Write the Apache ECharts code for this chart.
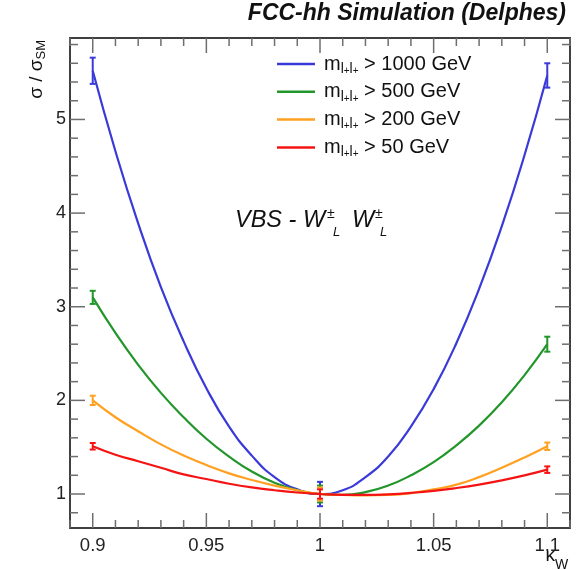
<!DOCTYPE html>
<html>
<head>
<meta charset="utf-8">
<script src="https://cdn.jsdelivr.net/npm/echarts@6/dist/echarts.min.js"></script>
<style>
  html, body { margin: 0; padding: 0; background: #fff; }
  #chart { width: 588px; height: 570px; }
</style>
</head>
<body>
<div id="chart"></div>
<script>
// kappa_W sampling of the fitted curves
const kappa = [0.90, 0.91, 0.92, 0.93, 0.94, 0.95, 0.96, 0.97, 0.98, 0.99, 1.00,
               1.01, 1.02, 1.03, 1.04, 1.05, 1.06, 1.07, 1.08, 1.09, 1.10];

// sigma / sigma_SM fit curves for each m_ll cut
const fit1000 = [5.52, 4.66, 3.89, 3.21, 2.63, 2.13, 1.72, 1.41, 1.18, 1.05, 1.00,
                 1.04, 1.18, 1.40, 1.72, 2.12, 2.61, 3.19, 3.86, 4.62, 5.47];
const fit500  = [3.10, 2.72, 2.38, 2.08, 1.82, 1.59, 1.40, 1.24, 1.12, 1.04, 1.00,
                 0.99, 1.02, 1.09, 1.20, 1.34, 1.52, 1.73, 1.98, 2.27, 2.60];
const fit200  = [2.00, 1.82, 1.67, 1.53, 1.41, 1.31, 1.22, 1.15, 1.09, 1.04, 1.00,
                 0.99, 0.985, 0.99, 1.01, 1.05, 1.10, 1.18, 1.28, 1.39, 1.51];
const fit50   = [1.51, 1.42, 1.35, 1.28, 1.21, 1.16, 1.11, 1.07, 1.04, 1.016, 1.00,
                 0.991, 0.99, 0.997, 1.012, 1.034, 1.064, 1.101, 1.146, 1.199, 1.26];

// simulated points with their uncertainties
const pointKappa = [0.9, 1.0, 1.1];
const pts1000 = [5.52, 1.00, 5.47];
const err1000 = [0.14, 0.13, 0.13];
const pts500  = [3.10, 1.00, 2.60];
const err500  = [0.07, 0.09, 0.08];
const pts200  = [2.00, 1.00, 1.51];
const err200  = [0.05, 0.07, 0.04];
const pts50   = [1.51, 1.00, 1.26];
const err50   = [0.035, 0.05, 0.035];

// cut labels shown in the legend
const cuts = ['1000', '500', '200', '50'];

// axis ticks
const xMajor = [0.9, 0.95, 1, 1.05, 1.1];
const yMajor = [1, 2, 3, 4, 5];
const xRange = [0.89, 1.11];
const yRange = [0.637, 5.87];

const xMinor = [];
for (let i = 89; i <= 111; i++) {
  if (i % 5 !== 0) xMinor.push(i / 100);
}
const yMinor = [];
for (let i = 4; i <= 29; i++) {
  if (i % 5 !== 0) yMinor.push(i / 5);
}

const colors = ['#3a3ad8', '#22962a', '#ffa020', '#f51414'];
const FONT = 'Liberation Sans';
const frameStyle = { color: '#404040', width: 2 };
const tickColor = '#6e6e6e';

function makeAxis(pos, range, major, showLabels) {
  return {
    type: 'value',
    position: pos,
    min: range[0],
    max: range[1],
    axisLine: { show: true, onZero: false, lineStyle: frameStyle },
    axisTick: { show: false },
    axisLabel: showLabels ? {
      show: true,
      customValues: major,
      fontFamily: FONT,
      fontSize: pos === 'bottom' ? 18.5 : 18,
      color: '#222',
      margin: pos === 'bottom' ? 8 : 4
    } : { show: false },
    splitLine: { show: false }
  };
}

function lineSeries(name, values, color) {
  return {
    type: 'line',
    name: name,
    data: kappa.map((k, i) => [k, values[i]]),
    smooth: 0.5,
    showSymbol: false,
    symbol: 'none',
    lineStyle: { color: color, width: 2.2 },
    itemStyle: { color: color },
    z: 3
  };
}

function errorSeries(name, vals, errs, color) {
  return {
    type: 'custom',
    name: name,
    data: pointKappa.map((k, i) => [k, vals[i], errs[i]]),
    renderItem: function (params, api) {
      const x = api.value(0), y = api.value(1), e = api.value(2);
      const hi = api.coord([x, y + e]);
      const lo = api.coord([x, y - e]);
      const st = { stroke: color, lineWidth: 2 };
      return {
        type: 'group',
        children: [
          { type: 'line', shape: { x1: hi[0], y1: hi[1], x2: lo[0], y2: lo[1] }, style: st },
          { type: 'line', shape: { x1: hi[0] - 3, y1: hi[1], x2: hi[0] + 3, y2: hi[1] }, style: st },
          { type: 'line', shape: { x1: lo[0] - 3, y1: lo[1], x2: lo[0] + 3, y2: lo[1] }, style: st }
        ]
      };
    },
    z: 4
  };
}

// text annotations: axis titles and process label
const textGraphics = [
  {
    type: 'text', x: 37, y: 40, rotation: Math.PI / 2,
    style: {
      text: '{a|σ / σ}{b|SM}', align: 'right', verticalAlign: 'middle',
      rich: {
        a: { fontFamily: FONT, fontSize: 19, lineHeight: 22, fill: '#111' },
        b: { fontFamily: FONT, fontSize: 13, lineHeight: 12, verticalAlign: 'bottom', fill: '#111' }
      }
    }
  },
  {
    type: 'text', x: 555, y: 556,
    style: { text: 'κ', font: '19px "Liberation Sans"', align: 'right', verticalAlign: 'middle', fill: '#111' }
  },
  {
    type: 'text', x: 555, y: 565,
    style: { text: 'W', font: '14px "Liberation Sans"', align: 'left', verticalAlign: 'middle', fill: '#111' }
  },
  {
    type: 'text', x: 235, y: 220.5,
    style: { text: 'VBS - W', font: 'italic 23.5px "Liberation Sans"', align: 'left', verticalAlign: 'middle', fill: '#111' }
  },
  {
    type: 'text', x: 327, y: 214,
    style: { text: '±', font: 'italic 14px "Liberation Sans"', align: 'left', verticalAlign: 'middle', fill: '#111' }
  },
  {
    type: 'text', x: 333, y: 232.5,
    style: { text: 'L', font: 'italic 13px "Liberation Sans"', align: 'left', verticalAlign: 'middle', fill: '#111' }
  },
  {
    type: 'text', x: 352, y: 220.5,
    style: { text: 'W', font: 'italic 23.5px "Liberation Sans"', align: 'left', verticalAlign: 'middle', fill: '#111' }
  },
  {
    type: 'text', x: 375, y: 214,
    style: { text: '±', font: 'italic 14px "Liberation Sans"', align: 'left', verticalAlign: 'middle', fill: '#111' }
  },
  {
    type: 'text', x: 380, y: 232.5,
    style: { text: 'L', font: 'italic 13px "Liberation Sans"', align: 'left', verticalAlign: 'middle', fill: '#111' }
  }
];

const chart = echarts.init(document.getElementById('chart'), null, { renderer: 'canvas' });

const option = {
  animation: false,
  backgroundColor: '#fff',
  title: {
    text: 'FCC-hh Simulation (Delphes)',
    right: 22,
    top: 2,
    padding: 0,
    textStyle: {
      fontFamily: FONT, fontStyle: 'italic', fontWeight: 'bold',
      fontSize: 23, color: '#111'
    }
  },
  grid: { left: 70, right: 18, top: 38, bottom: 42, containLabel: false },
  xAxis: [
    makeAxis('bottom', xRange, xMajor, true),
    makeAxis('top', xRange, xMajor, false)
  ],
  yAxis: [
    makeAxis('left', yRange, yMajor, true),
    makeAxis('right', yRange, yMajor, false)
  ],
  legend: {
    data: cuts,
    orient: 'vertical',
    left: 277,
    top: 54,
    padding: 0,
    itemGap: 5.8,
    itemWidth: 38,
    itemHeight: 2.5,
    icon: 'rect',
    selectedMode: false,
    formatter: function (name) {
      return '{m|m}{s|l}{p|+}{s|l}{p|+}{t| > ' + name + ' GeV}';
    },
    textStyle: {
      fontFamily: FONT,
      color: '#111',
      rich: {
        m: { fontFamily: FONT, fontSize: 20, lineHeight: 24, color: '#111', padding: [0, 0, 0, 4] },
        s: { fontFamily: FONT, fontSize: 14, lineHeight: 13, verticalAlign: 'bottom', color: '#111' },
        p: { fontFamily: FONT, fontSize: 10, lineHeight: 16, verticalAlign: 'bottom', color: '#111' },
        t: { fontFamily: FONT, fontSize: 20, lineHeight: 24, color: '#111' }
      }
    }
  },
  graphic: textGraphics,
  series: [
    lineSeries(cuts[0], fit1000, colors[0]),
    errorSeries('err' + cuts[0], pts1000, err1000, colors[0]),
    lineSeries(cuts[1], fit500, colors[1]),
    errorSeries('err' + cuts[1], pts500, err500, colors[1]),
    lineSeries(cuts[2], fit200, colors[2]),
    errorSeries('err' + cuts[2], pts200, err200, colors[2]),
    lineSeries(cuts[3], fit50, colors[3]),
    errorSeries('err' + cuts[3], pts50, err50, colors[3])
  ]
};

chart.setOption(option);

// inward-pointing major and minor ticks on all four sides of the frame
const px = v => chart.convertToPixel({ xAxisIndex: 0 }, v);
const py = v => chart.convertToPixel({ yAxisIndex: 0 }, v);
const frameLeft = px(xRange[0]), frameRight = px(xRange[1]);
const frameBottom = py(yRange[0]), frameTop = py(yRange[1]);
const ticks = [];
function tick(x1, y1, x2, y2) {
  ticks.push({
    type: 'line', silent: true, z: 1,
    shape: { x1: x1, y1: y1, x2: x2, y2: y2 },
    style: { stroke: tickColor, lineWidth: 1.5 }
  });
}
xMajor.forEach(v => { const x = px(v); tick(x, frameBottom, x, frameBottom - 15); tick(x, frameTop, x, frameTop + 15); });
xMinor.forEach(v => { const x = px(v); tick(x, frameBottom, x, frameBottom - 8); tick(x, frameTop, x, frameTop + 8); });
yMajor.forEach(v => { const y = py(v); tick(frameLeft, y, frameLeft + 15, y); tick(frameRight, y, frameRight - 15, y); });
yMinor.forEach(v => { const y = py(v); tick(frameLeft, y, frameLeft + 8, y); tick(frameRight, y, frameRight - 8, y); });

chart.setOption({ graphic: textGraphics.concat(ticks) });
</script>
</body>
</html>
